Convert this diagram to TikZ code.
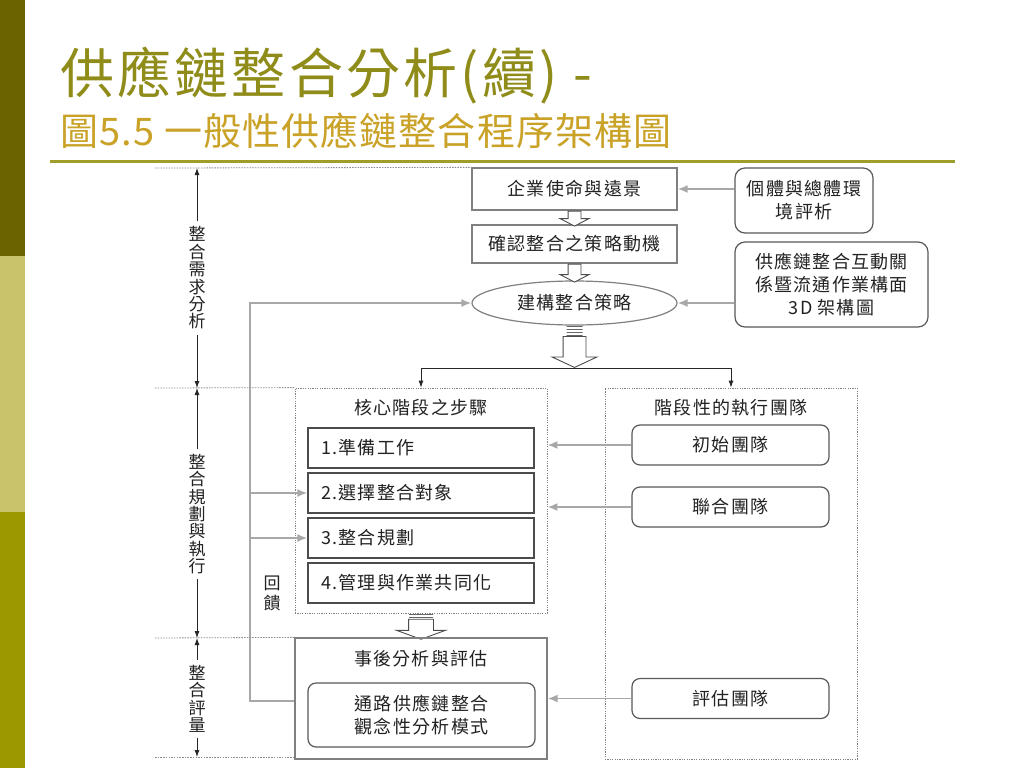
\documentclass[tikz,border=0pt]{standalone}
\usepackage{fontspec}
\setmainfont{Noto Sans CJK TC}
\newfontfamily\boxfont[LetterSpace=7]{Noto Sans CJK TC}
\newfontfamily\titlefont[LetterSpace=6]{Noto Sans CJK TC}
\newfontfamily\subfont[LetterSpace=3]{Noto Sans CJK TC}
\usepackage{xcolor}
\usepackage{tikz}
\usetikzlibrary{arrows.meta}
\usetikzlibrary{shapes.geometric}
\usetikzlibrary{shapes.arrows}
\usetikzlibrary{patterns}
\definecolor{darkolive}{HTML}{6B6300}
\definecolor{paleolive}{HTML}{C9C46B}
\definecolor{midolive}{HTML}{9C9900}
\definecolor{titlecol}{HTML}{8F8C1A}
\definecolor{subcol}{HTML}{C9A227}
\definecolor{rulecol}{HTML}{A09E2A}
\definecolor{linegray}{HTML}{808080}
\definecolor{arrgray}{HTML}{A8A8A8}
\definecolor{txt}{HTML}{222222}

\begin{document}
\begin{tikzpicture}[x=1pt, y=-1pt, every node/.style={font=\boxfont\fontsize{18}{23}\selectfont, text=txt, inner sep=0pt},
  box/.style={draw=linegray, line width=1.3pt, minimum width=205pt},
  stepbox/.style={draw=black!70, line width=1.2pt, minimum height=40pt, text width=200pt, inner xsep=13pt, align=left},
  roundbox/.style={draw=black!65, line width=1.2pt, rounded corners=8pt, align=center},
  dotbox/.style={draw=linegray, line width=0.8pt, dash pattern=on 1.2pt off 1.2pt, minimum width=252pt},
  sidelab/.style={font=\boxfont\fontsize{17}{17.4}\selectfont, align=center, inner sep=5pt},
  hollow/.style={single arrow, draw=black!70, line width=0.9pt, fill=white, rotate=-90, inner xsep=0pt, minimum width=0pt, anchor=tail},
  bars/.style={pattern=horizontal lines, pattern color=black!60, anchor=north},
  blk/.style={draw=black!85, line width=0.8pt, -{Latex[length=7pt,width=5pt]}},
  gry/.style={draw=arrgray, line width=1.9pt, -{Latex[length=10pt,width=8pt]}},
  guide/.style={draw=black!45, line width=0.8pt, dash pattern=on 1.5pt off 1.2pt}]
  \useasboundingbox (0,0) rectangle (1024,768);
  \fill[white] (0,0) rectangle (1024,768);
  \fill[darkolive] (0,0) rectangle (25,256);
  \fill[paleolive] (0,256) rectangle (25,512);
  \fill[midolive] (0,512) rectangle (25,768);
  \node[anchor=west, font=\titlefont\fontsize{54}{54}\selectfont, text=titlecol] (title) at (60,76) {供應鏈整合分析(續) -};
  \node[anchor=west, font=\subfont\fontsize{38}{38}\selectfont, text=subcol] (subtitle) at (60,131) {圖5.5 一般性供應鏈整合程序架構圖};
  \draw[rulecol, line width=3pt] (50,161) -- (955,161);

  \node[box, minimum height=42pt] (mission) at (574.5,189) {企業使命與遠景};
  \node[box, minimum height=38pt] (motive) at (574.5,244) {確認整合之策略動機};
  \node[box, ellipse, line width=1.2pt, minimum height=44pt] (strat) at (574.5,303) {建構整合策略};
  \node[roundbox, rounded corners=10pt, minimum width=138pt, minimum height=65pt] (env) at (804,200.5) {個體與總體環\\境評析};
  \node[roundbox, rounded corners=10pt, minimum width=193pt, minimum height=85pt] (frame) at (831.5,284.5) {供應鏈整合互動關\\係暨流通作業構面\\3D 架構圖};

  \node[hollow, inner ysep=6pt, single arrow head extend=8pt, single arrow tip angle=125, minimum height=15pt] (ar1) at (mission.south) {};
  \node[hollow, inner ysep=6pt, single arrow head extend=8pt, single arrow tip angle=125, minimum height=18pt] (ar2) at (motive.south) {};
  \node[bars, minimum width=16pt, minimum height=10pt] (bars1) at (strat.south) {};
  \node[hollow, inner ysep=11pt, single arrow head extend=11pt, single arrow tip angle=130, minimum height=31pt] (ar3) at (bars1.south) {};

  \node[dotbox, minimum height=225pt] (core) at (421,500.5) {};
  \node[dotbox, minimum height=371pt] (team) at (731,573.5) {};
  \node (coretitle) at (421,408) {核心階段之步驟};
  \node (teamtitle) at (731,408) {階段性的執行團隊};
  \node[stepbox] (s1) at (421,448) {1.準備工作};
  \node[stepbox] (s2) at (421,493) {2.選擇整合對象};
  \node[stepbox] (s3) at (421,538) {3.整合規劃};
  \node[stepbox] (s4) at (421,583) {4.管理與作業共同化};
  \node[roundbox, minimum width=197pt, minimum height=40pt] (t1) at (730.5,445) {初始團隊};
  \node[roundbox, minimum width=197pt, minimum height=40pt] (t2) at (730.5,507) {聯合團隊};
  \node[roundbox, minimum width=197pt, minimum height=40pt] (t3) at (730.5,698.5) {評估團隊};

  \node[bars, minimum width=24pt, minimum height=5pt] (bars2) at (core.south) {};
  \node[hollow, inner ysep=12pt, single arrow head extend=12pt, single arrow tip angle=140, minimum height=20pt] (ar4) at (bars2.south) {};
  \node[draw=linegray, line width=1.3pt, minimum width=252pt, minimum height=121pt] (post) at (421,698.5) {};
  \node (posttitle) at (421,659) {事後分析與評估};
  \node[roundbox, minimum width=227pt, minimum height=64pt] (model) at (421.5,715) {通路供應鏈整合\\觀念性分析模式};

  \draw[blk] (ar3.tip) -| (core.north);
  \draw[blk] (ar3.tip) -| (team.north);
  \draw[gry] (env.west |- mission) -- (mission.east);
  \draw[gry] (frame.west |- strat) -- (strat.east);
  \draw[gry] (t1.west) -- (core.east |- t1);
  \draw[gry] (t2.west) -- (core.east |- t2);
  \draw[gry] (t3.west) -- (post.east |- t3);

  \coordinate (fbb) at (250,701);
  \coordinate (fbt) at (250,303);
  \draw[gry] (post.west |- fbb) -- (fbb) -- (fbt) -- (strat.west);
  \draw[gry] (fbb |- s2) -- (s2.west);
  \draw[gry] (fbb |- s3) -- (s3.west);
  \node[font=\boxfont\fontsize{17}{20}\selectfont, align=center] (fbtext) at (272,593) {回\\饋};

  \coordinate (g1) at (155,168);
  \coordinate (g2) at (155,388);
  \coordinate (g3) at (155,638);
  \coordinate (g4) at (155,757);
  \draw[guide] (g1) -- (mission.north west);
  \draw[guide] (g2) -- (core.north west);
  \draw[guide] (g3) -- (post.north west);
  \draw[guide] (g4) -- (post.west |- g4);
  \node[sidelab] (lab1) at (197,278) {整\\合\\需\\求\\分\\析};
  \node[sidelab] (lab2) at (197,514) {整\\合\\規\\劃\\與\\執\\行};
  \node[sidelab] (lab3) at (197,699) {整\\合\\評\\量};
  \draw[blk] (lab1.north) -- (lab1 |- g1);
  \draw[blk] (lab1.south) -- (lab1 |- g2);
  \draw[blk] (lab2.north) -- (lab2 |- g2);
  \draw[blk] (lab2.south) -- (lab2 |- g3);
  \draw[blk] (lab3.north) -- (lab3 |- g3);
  \draw[blk] (lab3.south) -- (lab3 |- g4);
\end{tikzpicture}
\end{document}
